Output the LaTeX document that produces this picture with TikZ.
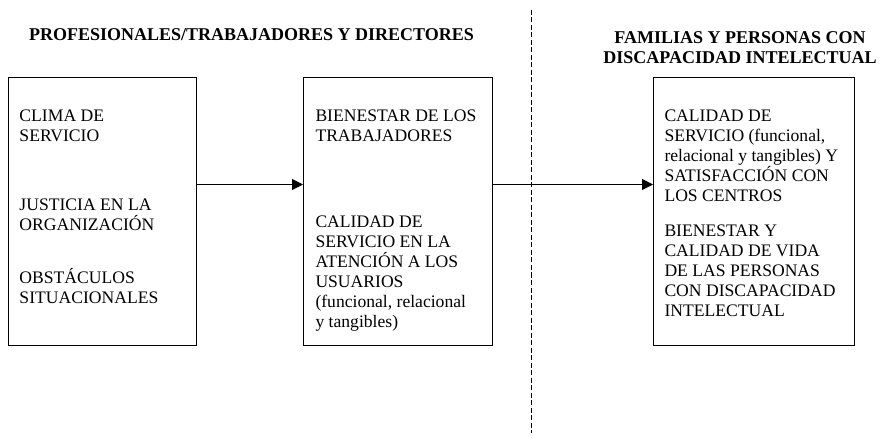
\documentclass[tikz,border=0pt]{standalone}
\usepackage{fontspec}
\setmainfont{Liberation Serif}
\usepackage{tikz}
\usetikzlibrary{arrows.meta}

\begin{document}
\begin{tikzpicture}[x=1pt,y=-1pt,line width=1pt,
	font=\fontsize{17.6}{20}\selectfont]
	\useasboundingbox (0,0) rectangle (880,438);

	% titulos
	\node[font=\fontsize{18}{20}\selectfont\bfseries, anchor=base, inner sep=0] (tit1) at (251.5,41) {PROFESIONALES/TRABAJADORES Y DIRECTORES};
	\node[font=\fontsize{18}{20}\selectfont\bfseries, anchor=north, align=center, inner sep=0] (tit2) at (740,31) {FAMILIAS Y PERSONAS CON\\DISCAPACIDAD INTELECTUAL};

	\begin{scope}[every node/.style={draw, anchor=north west, inner sep=0}]
		\node[minimum width=188pt, minimum height=268pt] (a) at (8,77) {};
		\node[minimum width=189pt, minimum height=268pt] (b) at (303,77) {};
		\node[minimum width=201pt, minimum height=268pt] (c) at (653,77) {};
	\end{scope}

	\begin{scope}[every node/.style={anchor=north west, align=left, inner sep=0}]
		\node (a1) at (19,109.4) {CLIMA DE\\SERVICIO\\[49pt]
			JUSTICIA EN LA\\ORGANIZACIÓN\\[33pt]
			OBSTÁCULOS\\SITUACIONALES};
		\node (b1) at (315,109.4) {BIENESTAR DE LOS\\TRABAJADORES\\[66pt]
			CALIDAD DE\\SERVICIO EN LA\\ATENCIÓN A LOS\\USUARIOS\\(funcional, relacional\\y tangibles)};
		\node (c1) at (664,109.4) {CALIDAD DE\\SERVICIO (funcional,\\relacional y tangibles) Y\\SATISFACCIÓN CON\\LOS CENTROS\\[15pt]
			BIENESTAR Y\\CALIDAD DE VIDA\\DE LAS PERSONAS\\CON DISCAPACIDAD\\INTELECTUAL};
	\end{scope}

	\begin{scope}[>={Triangle[length=11pt,width=11pt]},
	              every edge/.style={draw=black,->}]
		\path ([yshift=27pt]a.east) edge ([yshift=27pt]b.west);
		\path ([yshift=27pt]b.east) edge ([yshift=27pt]c.west);
	\end{scope}

	% separacion
	\coordinate (d1) at (531,10);
	\coordinate (d2) at (531,433);
	\draw[dash pattern=on 5pt off 2.5pt] (d1) -- (d2);
\end{tikzpicture}
\end{document}
